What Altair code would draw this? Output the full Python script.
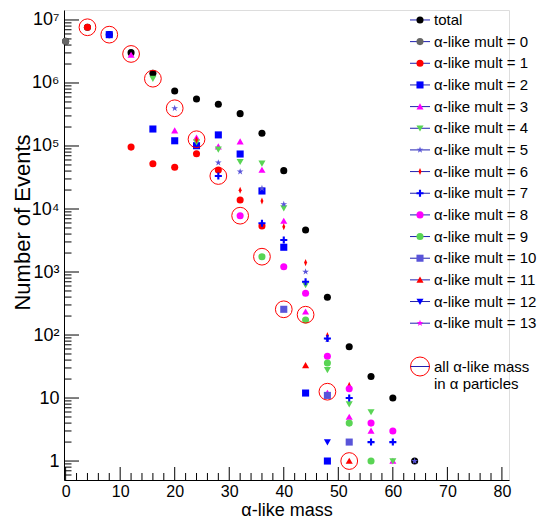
import altair as alt
import pandas as pd

N = None
mass = [0, 4, 8, 12, 16, 20, 24, 28, 32, 36, 40, 44, 48, 52, 56, 60, 64]

total  = [4.6e6, 7.66e6, 5.85e6, 3.03e6, 1.43e6, 7.47e5, 5.57e5, 4.59e5, 3.26e5, 1.59e5, 4.06e4, 4.64e3, 397, 65, 22, 10, 1]
mult0  = [4.6e6, N, N, N, N, N, N, N, N, N, N, N, N, N, N, N, N]
mult1  = [N, 7.66e6, N, 9.6e4, 5.24e4, 4.59e4, 7.55e4, 4.16e4, 1.39e4, 5.37e3, N, N, N, N, N, N, N]
mult2  = [N, N, 5.85e6, N, 1.86e5, 1.21e5, 1.01e5, 1.5e5, 7.46e4, 1.93e4, 2.47e3, 12, 1, N, N, N, N]
mult3  = [N, N, N, 2.78e6, N, 1.75e5, 1.35e5, 9.75e4, 1.17e5, 4.16e4, 6.45e3, 234, 12, 5, 3, 1, N]
mult4  = [N, N, N, N, 1.17e6, N, 1.15e5, 8.87e4, 5.63e4, 5.3e4, 1.03e4, 622, 28, 8, 6, 1, N]
mult5  = [N, N, N, N, N, 3.97e5, N, 5.43e4, 3.91e4, 2.13e4, 1.19e4, 1.01e3, 85, N, N, N, 1]
mult6  = [N, N, N, N, N, N, 1.25e5, N, 1.98e4, 1.34e4, 5.24e3, 1.41e3, 98, 16, N, N, N]
mult7  = [N, N, N, N, N, N, N, 3.34e4, N, 5.93e3, 3.22e3, 702, 88, 10, 2, 2, N]
mult8  = [N, N, N, N, N, N, N, N, 7.83e3, N, 1.21e3, 459, 46, 14, 4, 3, N]
mult9  = [N, N, N, N, N, N, N, N, N, 1.75e3, N, 173, 36, 4, 1, N, N]
mult10 = [N, N, N, N, N, N, N, N, N, N, 256, N, 11, 2, N, N, N]
mult11 = [N, N, N, N, N, N, N, N, N, N, N, 33, N, 1, N, N, N]
mult12 = [N, N, N, N, N, N, N, N, N, N, N, N, 2, N, N, N, N]
mult13 = [N, N, N, N, N, N, N, N, N, N, N, N, N, N, N, N, N]
all_alpha = [N, 7.66e6, 5.85e6, 2.89e6, 1.17e6, 3.97e5, 1.28e5, 3.34e4, 7.83e3, 1.75e3, 256, 210, 12.6, 1, N, N, N]

series_names = ["total"] + [f"α-like mult = {i}" for i in range(14)]
series_values = [total, mult0, mult1, mult2, mult3, mult4, mult5, mult6,
                 mult7, mult8, mult9, mult10, mult11, mult12, mult13]
circle_label = ["all α-like mass", "in α particles"]

TRI_UP = "M0,-0.95L1,0.8L-1,0.8Z"
TRI_DN = "M0,0.95L1,-0.8L-1,-0.8Z"
STAR = ("M0,-1L0.223,-0.307L0.951,-0.309L0.361,0.117L0.588,0.809L0,0.38"
        "L-0.588,0.809L-0.361,0.117L-0.951,-0.309L-0.223,-0.307Z")
DIAM = "M0,-1L0.42,0L0,1L-0.42,0Z"
CROSS = "M-0.3,-1H0.3V-0.3H1V0.3H0.3V1H-0.3V0.3H-1V-0.3H-0.3Z"

GREEN = "#59d454"
SLATE = "#5954d9"
shapes = ["circle", "circle", "circle", "square", TRI_UP, TRI_DN, STAR, DIAM,
          CROSS, "circle", "circle", "square", TRI_UP, TRI_DN, STAR]
colors = ["#000000", "#666666", "#ff0000", "#0000ff", "#ff00ff", GREEN, SLATE, "#ff0000",
          "#0000ff", "#ff00ff", GREEN, SLATE, "#ff0000", "#0000ff", "#ff00ff"]
sizes = [50, 50, 50, 46, 64, 64, 60, 70, 64, 50, 50, 46, 64, 64, 60]

rows = []
for name, vals in zip(series_names, series_values):
    for m, v in zip(mass, vals):
        if v is not None:
            rows.append({"mass": m, "events": v, "series": name})
pts = pd.DataFrame(rows)
circ = pd.DataFrame([{"mass": m, "events": v} for m, v in zip(mass, all_alpha) if v is not None])

y_major = [1, 10, 1e2, 1e3, 1e4, 1e5, 1e6, 1e7]
y_minor = [k * 10 ** e for e in range(-1, 7) for k in range(2, 10) if 0.55 < k * 10 ** e < 1.4e7]
x_major = list(range(0, 81, 10))
x_minor = [v for v in range(0, 82, 2) if v % 10 != 0]

W, H = 445, 470
FONT = "Liberation Sans"

xscale = alt.Scale(domain=[-0.3, 81.3], nice=False, zero=False)
yscale = alt.Scale(type="log", domain=[0.5, 1.44e7], nice=False)
sup = "{'0':'⁰','1':'¹','2':'²','3':'³','4':'⁴','5':'⁵','6':'⁶','7':'⁷','8':'⁸','9':'⁹'}"
xaxis = alt.Axis(values=x_major, ticks=False, grid=False, domainColor="black", domainWidth=1,
                 labelFont=FONT, labelFontSize=16, labelColor="black", labelPadding=3,
                 title="α-like mass", titleFont=FONT, titleFontSize=18, titleFontWeight="normal",
                 titleColor="black", titleY=30, titleBaseline="middle")
yaxis = alt.Axis(values=y_major, ticks=False, grid=False, domainColor="black", domainWidth=1,
                 labelFont=FONT, labelFontSize=18, labelColor="black", labelPadding=5,
                 labelExpr="datum.value < 5 ? '1' : datum.value < 50 ? '10' : '10' + " + sup +
                           "[format(log(datum.value)/log(10), '.0f')]",
                 title="Number of Events", titleFont=FONT, titleFontSize=22, titleFontWeight="normal",
                 titleColor="black", titleX=-42, titleY=212, titleAngle=270, titleBaseline="middle",
                 titleAlign="center")

def X(field):
    return alt.X(field, type="quantitative", scale=xscale, axis=xaxis)

def Y(field):
    return alt.Y(field, type="quantitative", scale=yscale, axis=yaxis)

color_enc = alt.Color("series:N", scale=alt.Scale(domain=series_names, range=colors), legend=None)
shape_enc = alt.Shape("series:N", scale=alt.Scale(domain=series_names, range=shapes), legend=None)
size_enc = alt.Size("series:N", scale=alt.Scale(domain=series_names, range=sizes), legend=None)

ymaj = alt.Chart(pd.DataFrame({"v": y_major})).mark_rule(color="black", strokeWidth=1).encode(
    y=Y("v"), x=alt.value(0), x2=alt.value(15))
ymin = alt.Chart(pd.DataFrame({"v": y_minor})).mark_rule(color="black", strokeWidth=1).encode(
    y=Y("v"), x=alt.value(0), x2=alt.value(7.5))
xmaj = alt.Chart(pd.DataFrame({"v": x_major})).mark_rule(color="black", strokeWidth=1).encode(
    x=X("v"), y=alt.value(H), y2=alt.value(H - 13))
xmin = alt.Chart(pd.DataFrame({"v": x_minor})).mark_rule(color="black", strokeWidth=1).encode(
    x=X("v"), y=alt.value(H), y2=alt.value(H - 7))

points = alt.Chart(pts).mark_point(filled=True, opacity=1, strokeWidth=0).encode(
    x=X("mass"), y=Y("events"), color=color_enc, shape=shape_enc, size=size_enc)
circles = alt.Chart(circ).mark_point(shape="circle", filled=False, color="#ff0000", size=280,
                                     strokeWidth=1, opacity=1).encode(x=X("mass"), y=Y("events"))

data_layer = alt.layer(ymaj, ymin, xmaj, xmin, points, circles)

# legend
leg = pd.DataFrame({"idx": list(range(15)), "series": series_names})
leg_line = pd.DataFrame({"idx": list(range(15)) + [16]})
leg_circ = pd.DataFrame({"idx": [16]})
lscale = alt.Scale(domain=[-0.46, 21.24], reverse=True, zero=False, nice=False)
LY = alt.Y("idx:Q", scale=lscale, axis=None)
LINE = "#2020b0"
lx0, lx1, lmk, ltx = 346, 366, 356, 370

l_lines = alt.Chart(leg_line).mark_rule(color=LINE, strokeWidth=1).encode(
    y=LY, x=alt.value(lx0), x2=alt.value(lx1))
l_marks = alt.Chart(leg).mark_point(filled=True, opacity=1, strokeWidth=0).encode(
    y=LY, x=alt.value(lmk), color=color_enc, shape=shape_enc, size=size_enc)
l_text = alt.Chart(leg).mark_text(align="left", baseline="middle", font=FONT, fontSize=15,
                                  color="black").encode(y=LY, x=alt.value(ltx), text="series:N")
l_circ = alt.Chart(leg_circ).mark_point(shape="circle", filled=False, color="#ff0000", size=361,
                                        strokeWidth=1, opacity=1).encode(y=LY, x=alt.value(lmk))
l_circ_text = alt.Chart(leg_circ).mark_text(align="left", baseline="middle", font=FONT, fontSize=15,
                                            color="black", lineHeight=17, text=circle_label).encode(
    y=LY, x=alt.value(ltx))

legend_layer = alt.layer(l_lines, l_marks, l_text, l_circ, l_circ_text)

chart = alt.layer(data_layer, legend_layer).resolve_scale(y="independent").properties(
    width=W, height=H,
    autosize=alt.AutoSizeParams(type="none"),
    padding={"left": 56, "top": 2, "right": 32, "bottom": 40},
).configure_view(stroke=None).configure(font=FONT)

chart.save("out.html", embed_options={"renderer": "svg", "actions": False})
